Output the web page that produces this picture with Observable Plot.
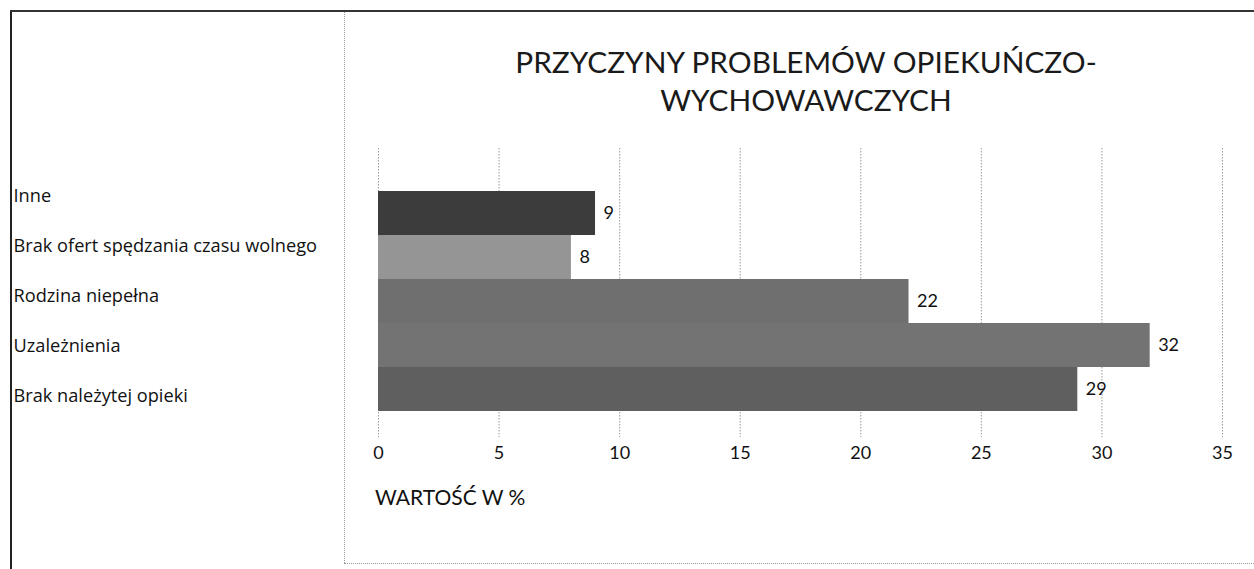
<!DOCTYPE html>
<html>
<head>
<meta charset="utf-8">
<script src="https://cdn.jsdelivr.net/npm/d3@7"></script>
<script src="https://cdn.jsdelivr.net/npm/@observablehq/plot@0.6"></script>
<style>
  html, body { margin: 0; padding: 0; background: #fff; }
  #wrap { position: relative; width: 1254px; height: 569px; background: #fff; overflow: hidden; font-family: Lato, "Open Sans", sans-serif; color: #111; }
  .abs { position: absolute; }
  #title { left: 345px; width: 922px; top: 43px; text-align: center; font-size: 29.8px; line-height: 38px; color: #1a1a1a; }
  #xlabel { left: 375px; top: 484px; font-size: 21px; color: #111; }
</style>
</head>
<body>
<div id="wrap">
  <div class="abs" style="left:10px;top:10px;width:2px;height:559px;background:#222"></div>
  <div class="abs" style="left:10px;top:10px;width:1244px;height:2px;background:#333"></div>
  <div class="abs" style="left:344px;top:12px;width:0;height:551px;border-left:1px dotted #999"></div>
  <div class="abs" style="left:344px;top:563px;width:910px;height:0;border-top:1px dotted #999"></div>
  <div id="left" class="abs" style="left:0;top:0"></div>
  <div id="main" class="abs" style="left:345px;top:0"></div>
  <div id="title" class="abs">PRZYCZYNY PROBLEMÓW OPIEKUŃCZO-<br>WYCHOWAWCZYCH</div>
  <div id="xlabel" class="abs">WARTOŚĆ W %</div>
</div>
<script>
const categories = ["Inne", "Brak ofert spędzania czasu wolnego", "Rodzina niepełna", "Uzależnienia", "Brak należytej opieki"];
const values = [9, 8, 22, 32, 29];
const barColors = ["#3c3c3c", "#959595", "#6f6f6f", "#737373", "#5f5f5f"];
const xTicks = [0, 5, 10, 15, 20, 25, 30, 35];
const axisTitle = "WARTOŚĆ W %";

const data = categories.map((c, i) => ({cat: c, value: values[i]}));

const left = Plot.plot({
  width: 344, height: 569,
  marginLeft: 13, marginRight: 0, marginTop: 171, marginBottom: 148,
  style: {fontFamily: "'Open Sans', Lato, sans-serif", background: "transparent", color: "#111"},
  y: {type: "band", domain: categories, padding: 0, axis: null},
  marks: [
    Plot.text(categories, {y: d => d, text: d => d, frameAnchor: "left", textAnchor: "start", fontSize: 18.2, fill: "#111"})
  ]
});
document.getElementById("left").appendChild(left);

const main = Plot.plot({
  width: 909, height: 569,
  marginLeft: 33, marginRight: 32, marginTop: 190, marginBottom: 157,
  style: {fontFamily: "Lato, 'Open Sans', sans-serif", background: "transparent", color: "#111"},
  x: {domain: [0, 35], ticks: xTicks},
  y: {type: "band", domain: categories, padding: 0, axis: null},
  color: {domain: categories, range: barColors},
  marks: [
    Plot.ruleX(xTicks, {x: d => d, stroke: "#9a9a9a", strokeWidth: 1, strokeDasharray: "1.5,1.5", insetTop: -42, insetBottom: -25}),
    Plot.barX(data, {x: "value", y: "cat", fill: "cat"}),
    Plot.text(data, {x: "value", y: "cat", text: d => String(d.value), dx: 8, textAnchor: "start", fontSize: 18, fill: "#111"}),
    Plot.axisX({ticks: xTicks, tickSize: 0, tickPadding: 34, fontSize: 18, label: null, tickFormat: d => String(d)})
  ]
});
document.getElementById("main").appendChild(main);
document.getElementById("xlabel").textContent = axisTitle;
</script>
</body>
</html>
